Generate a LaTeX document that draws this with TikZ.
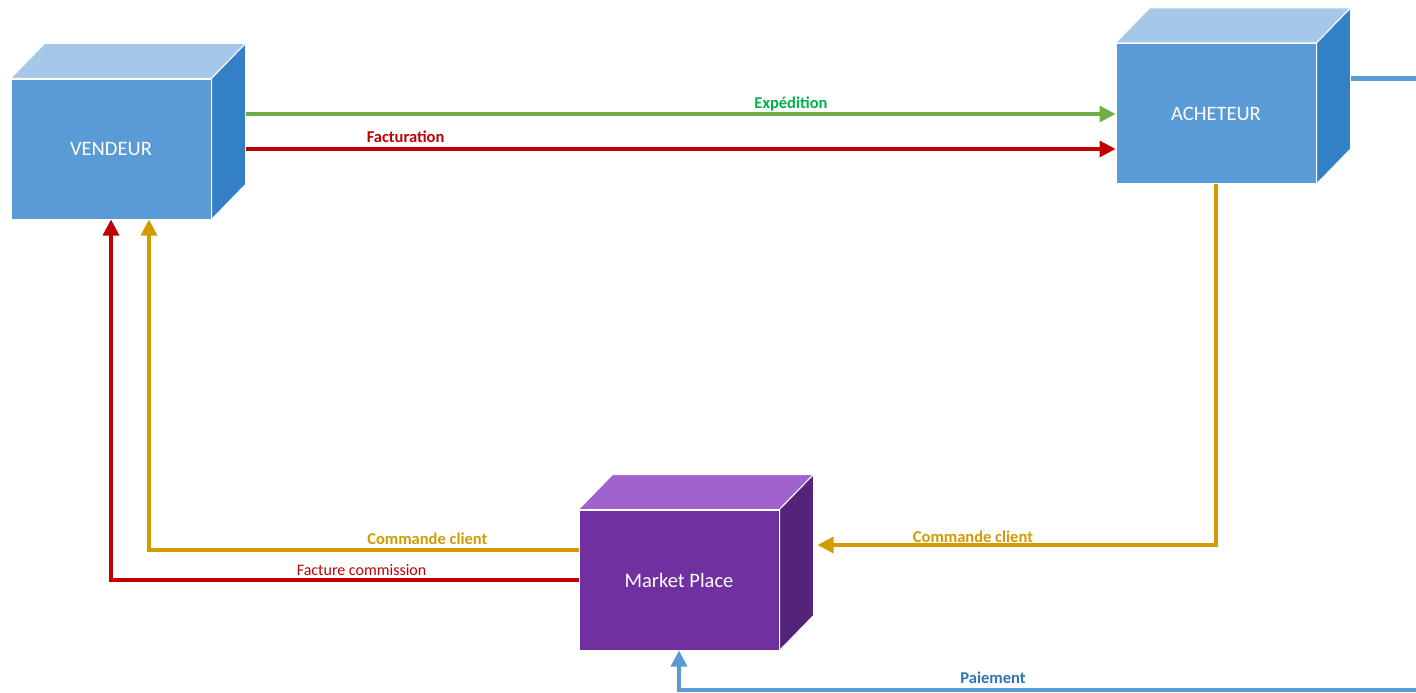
\documentclass[tikz,border=0pt]{standalone}
\usepackage{fontspec}
\setmainfont{Carlito}
\usetikzlibrary{arrows.meta}
\definecolor{boxBlue}{HTML}{5B9BD5}
\definecolor{boxBlueTop}{HTML}{A5C8E9}
\definecolor{boxBlueSide}{HTML}{3480C6}
\definecolor{boxPurple}{HTML}{7030A0}
\definecolor{boxPurpleTop}{HTML}{A062CC}
\definecolor{boxPurpleSide}{HTML}{54237A}
\definecolor{flowGreen}{HTML}{70AD47}
\definecolor{txtGreen}{HTML}{00B050}
\definecolor{flowRed}{HTML}{C00000}
\definecolor{flowGold}{HTML}{D09C00}
\definecolor{txtBlue}{HTML}{2E75B6}
\tikzset{
  front/.style={draw=white, line width=1pt, minimum width=200pt, minimum height=140pt,
    text=white, font=\fontsize{20.5}{24}\selectfont},
  flow/.style={line width=3.2pt, -{Triangle[length=16pt,width=16pt]}},
  lbl/.style={above, inner sep=1pt, fill=white, font=\fontsize{16.5}{19}\selectfont\bfseries}
}
\begin{document}
\begin{tikzpicture}[x=1pt, y=-1pt]
  \useasboundingbox (0,0) rectangle (1416,693);
  \node[front, fill=boxBlue] (vendeur) at (111,149) {VENDEUR};
  \node[front, fill=boxBlue] (acheteur) at (1216,113.5) {ACHETEUR};
  \node[front, fill=boxPurple] (mp) at (679,580) {Market Place};
  % top and side faces
  \foreach \n/\t/\s in {vendeur/boxBlueTop/boxBlueSide, acheteur/boxBlueTop/boxBlueSide, mp/boxPurpleTop/boxPurpleSide}{
    \filldraw[fill=\t, draw=white, line width=1pt] (\n.north west) -- ([shift={(34,-35)}]\n.north west)
      -- ([shift={(34,-35)}]\n.north east) -- (\n.north east) -- cycle;
    \filldraw[fill=\s, draw=white, line width=1pt] (\n.north east) -- ([shift={(34,-35)}]\n.north east)
      -- ([shift={(34,-35)}]\n.south east) -- (\n.south east) -- cycle;
  }
  \coordinate (g) at ([shift={(34,-35)}]vendeur.east);
  \coordinate (mpin) at ([shift={(38,-35)}]mp.east);
  \coordinate (out) at (1416,78.5);
  \coordinate (pay) at (1416,690);
  \draw[flow, flowGreen] (g) -- node[lbl, text=txtGreen, pos=0.627] {Expédition} (acheteur.west |- g);
  \draw[flow, flowRed] ([xshift=34pt]vendeur.east) -- node[lbl, text=flowRed, pos=0.184, yshift=4pt] {Facturation} (acheteur.west |- vendeur.east);
  \draw[flow, flowGold] (acheteur.south) |- node[lbl, text=flowGold, pos=0.805] {Commande client} (mpin);
  \draw[flow, flowGold] ([yshift=30pt]mp.west) -| node[lbl, text=flowGold, pos=0.176, yshift=3pt] {Commande client} ([xshift=38pt]vendeur.south);
  \draw[flow, flowRed] (mp.west) -| node[lbl, text=flowRed, pos=0.232, yshift=2pt, font=\fontsize{16}{19}\selectfont] {Facture commission} (vendeur.south);
  \draw[flow, boxBlue] (pay) -| node[lbl, text=txtBlue, pos=0.287, yshift=4pt] {Paiement} (mp.south);
  \draw[line width=4pt, boxBlue] ([shift={(34,-35)}]acheteur.east) -- (out);
\end{tikzpicture}
\end{document}
